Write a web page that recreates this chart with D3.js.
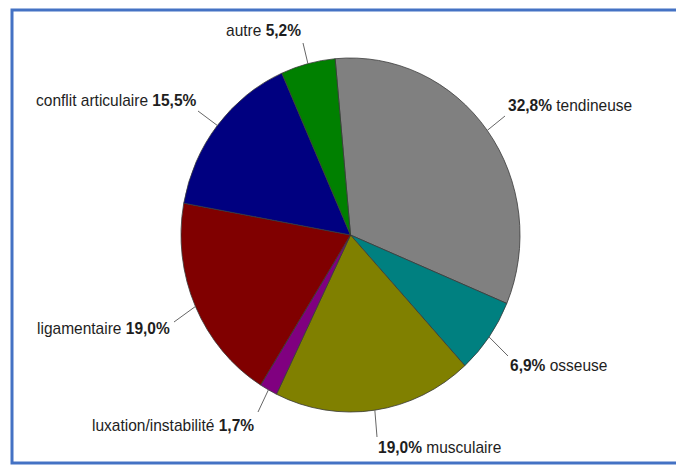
<!DOCTYPE html>
<html><head><meta charset="utf-8">
<script src="https://cdn.jsdelivr.net/npm/d3@7"></script>
<style>html,body{margin:0;padding:0;background:#fff;}svg{display:block;}</style>
</head><body>
<script>
const categories = ["tendineuse","osseuse","musculaire","luxation/instabilité","ligamentaire","conflit articulaire","autre"];
const values = [32.8, 6.9, 19.0, 1.7, 19.0, 15.5, 5.2];
const colors = ["#808080","#008080","#808000","#800080","#800000","#000080","#008000"];
const percentFirst = [true, true, true, false, false, false, false];

// layout
const W = 676, H = 466;
const cx = 350.5, cy = 235, rx = 169.5, ry = 177;
const startDeg = -5.2;
const textSx = 0.97;
// label layout: [text x, baseline y, leader end x, leader end y]
const labelLayout = [
  [508, 111, 505, 116],
  [510, 371, 508, 356],
  [378, 453, 377, 437],
  [92, 431, 258, 412],
  [37, 334, 174, 322],
  [36, 106, 198, 111],
  [226, 36, 303, 43]
];

const svg = d3.select("body").append("svg").attr("width", W).attr("height", H);
svg.append("rect").attr("width", W).attr("height", H).attr("fill", "#fff");
svg.append("rect").attr("x", 12).attr("y", 10).attr("width", W + 10).attr("height", 453)
  .attr("fill", "none").attr("stroke", "#4472C4").attr("stroke-width", 3);

const data = categories.map((c, i) => ({name: c, value: values[i], color: colors[i], pf: percentFirst[i], lay: labelLayout[i]}));
const s0 = startDeg * Math.PI / 180;
const pie = d3.pie().sort(null).value(d => d.value).startAngle(s0).endAngle(s0 + 2 * Math.PI);
const arcs = pie(data);
const arc = d3.arc().innerRadius(0).outerRadius(ry);

const g = svg.append("g").attr("transform", `translate(${cx},${cy}) scale(${rx / ry},1)`);
g.selectAll("path").data(arcs).join("path")
  .attr("d", arc)
  .attr("fill", d => d.data.color)
  .attr("stroke", "#3a3a3a")
  .attr("stroke-width", 0.8)
  .attr("vector-effect", "non-scaling-stroke");

const fmt = v => d3.format(".1f")(v).replace(".", ",") + "%";

// leader lines
svg.selectAll("line.leader").data(arcs).join("line")
  .attr("class", "leader")
  .attr("x1", d => cx + rx * Math.sin((d.startAngle + d.endAngle) / 2))
  .attr("y1", d => cy - ry * Math.cos((d.startAngle + d.endAngle) / 2))
  .attr("x2", d => d.data.lay[2])
  .attr("y2", d => d.data.lay[3])
  .attr("stroke", "#666").attr("stroke-width", 1);

const t = svg.selectAll("text.lbl").data(arcs).join("text")
  .attr("class", "lbl")
  .attr("transform", d => `translate(${d.data.lay[0]},${d.data.lay[1]}) scale(${textSx},1)`)
  .attr("font-family", "'Liberation Sans', Arial, sans-serif")
  .attr("font-size", 16)
  .attr("fill", "#1e1e1e");
t.each(function(d) {
  const el = d3.select(this);
  if (d.data.pf) {
    el.append("tspan").attr("font-weight", "bold").text(fmt(d.data.value));
    el.append("tspan").text(" " + d.data.name);
  } else {
    el.append("tspan").text(d.data.name + " ");
    el.append("tspan").attr("font-weight", "bold").text(fmt(d.data.value));
  }
});
</script>
</body></html>
